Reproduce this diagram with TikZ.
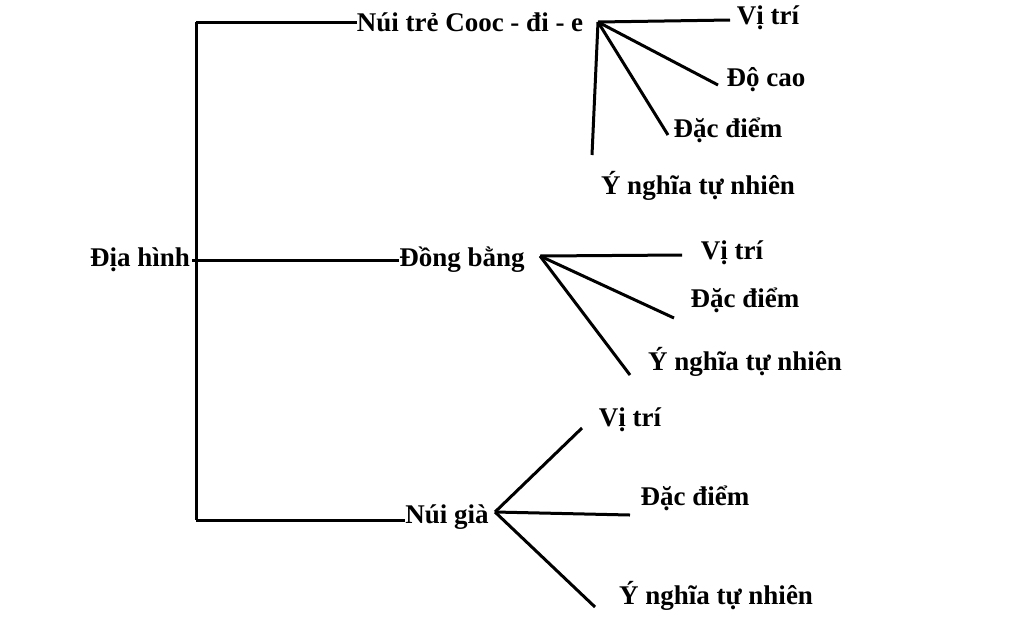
\documentclass[tikz,border=0pt]{standalone}
\usepackage{fontspec}
\setmainfont{Liberation Serif}
\begin{document}
\begin{tikzpicture}[x=1pt,y=-1pt,
  lbl/.style={font=\fontsize{27}{30}\selectfont\bfseries,inner sep=0pt,anchor=center},
  ln/.style={line width=3pt}]
\useasboundingbox[fill=white] (0,0) rectangle (1024,638);
\node[lbl] (dh) at (140,260) {Địa hình};
\node[lbl] (nt) at (470,22) {Núi trẻ Cooc - đi - e};
\node[lbl] (db) at (462,260) {Đồng bằng};
\node[lbl] (ng) at (447,517) {Núi già};
\coordinate (top) at (196,22);
\coordinate (mid) at (192,260);
\coordinate (bot) at (196,520);
\draw[ln] (top) -- (bot);
\draw[ln] (top) -- (nt.west|-top);
\draw[ln] (mid) -- (db.west|-mid);
\draw[ln] (bot) -- (ng.west|-bot);
% hubs
\coordinate (h1) at (598,22);
\coordinate (h2) at (540,256);
\coordinate (h3) at (495,512);
\node[lbl] (a1) at (768,18) {Vị trí};
\node[lbl] (a2) at (766,80) {Độ cao};
\node[lbl] (a3) at (728,130) {Đặc điểm};
\node[lbl] (a4) at (698,186) {Ý nghĩa tự nhiên};
\coordinate (e1) at (730,20); \coordinate (e2) at (718,85);
\coordinate (e3) at (668,135); \coordinate (e4) at (592,155);
\foreach \e in {e1,e2,e3,e4} \draw[ln] (h1) -- (\e);
\node[lbl] (b1) at (732,253) {Vị trí};
\node[lbl] (b2) at (745,300) {Đặc điểm};
\node[lbl] (b3) at (745,362) {Ý nghĩa tự nhiên};
\coordinate (f1) at (682,255); \coordinate (f2) at (674,318); \coordinate (f3) at (630,375);
\foreach \e in {f1,f2,f3} \draw[ln] (h2) -- (\e);
\node[lbl] (c1) at (630,420) {Vị trí};
\node[lbl] (c2) at (695,498) {Đặc điểm};
\node[lbl] (c3) at (716,596) {Ý nghĩa tự nhiên};
\coordinate (g1) at (582,428); \coordinate (g2) at (630,515); \coordinate (g3) at (595,607);
\foreach \e in {g1,g2,g3} \draw[ln] (h3) -- (\e);
\end{tikzpicture}
\end{document}
